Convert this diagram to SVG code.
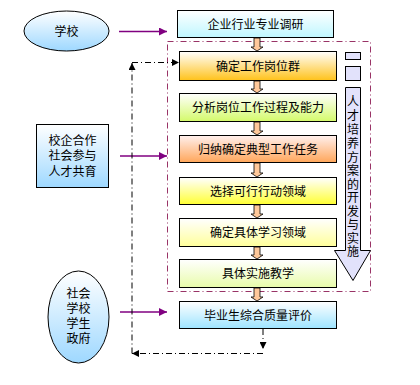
<svg xmlns="http://www.w3.org/2000/svg" width="420" height="385" viewBox="0 0 420 385">
<defs>
<linearGradient id="gCyan" x1="0" y1="0" x2="0" y2="1"><stop offset="0" stop-color="#ffffff"/><stop offset="1" stop-color="#bff7ff"/></linearGradient>
<linearGradient id="gOrange" x1="0" y1="0" x2="0" y2="1"><stop offset="0" stop-color="#ffffff"/><stop offset="1" stop-color="#ffc21a"/></linearGradient>
<linearGradient id="gGreen" x1="0" y1="0" x2="0" y2="1"><stop offset="0" stop-color="#ffffff"/><stop offset="1" stop-color="#d4fa6a"/></linearGradient>
<linearGradient id="gPeach" x1="0" y1="0" x2="0" y2="1"><stop offset="0" stop-color="#fff0ee"/><stop offset="1" stop-color="#ffa65a"/></linearGradient>
<linearGradient id="gYellow" x1="0" y1="0" x2="0" y2="1"><stop offset="0" stop-color="#ffffff"/><stop offset="1" stop-color="#ffff33"/></linearGradient>
<linearGradient id="gLYellow" x1="0" y1="0" x2="0" y2="1"><stop offset="0" stop-color="#ffffff"/><stop offset="1" stop-color="#ffff9a"/></linearGradient>
<linearGradient id="gLGreen" x1="0" y1="0" x2="0" y2="1"><stop offset="0" stop-color="#ffffff"/><stop offset="1" stop-color="#e8fcaa"/></linearGradient>
<linearGradient id="gBlue" x1="0" y1="0" x2="0" y2="1"><stop offset="0" stop-color="#ffffff"/><stop offset="1" stop-color="#9ed8ff"/></linearGradient>
<linearGradient id="gSky" x1="0" y1="0" x2="0" y2="1"><stop offset="0" stop-color="#ffffff"/><stop offset="1" stop-color="#9ee4ff"/></linearGradient>
<marker id="mPurple" viewBox="0 0 10 10" refX="10" refY="5" markerWidth="8" markerHeight="8" markerUnits="userSpaceOnUse" orient="auto"><path d="M0,0 L10,5 L0,10 Z" fill="#800080"/></marker>
<marker id="mBlack" viewBox="0 0 10 10" refX="10" refY="5" markerWidth="7" markerHeight="7" markerUnits="userSpaceOnUse" orient="auto"><path d="M0,0 L10,5 L0,10 Z" fill="#000"/></marker>
</defs>
<style>
.box{stroke:#000;stroke-width:1}
.t{font-family:"Liberation Sans","Noto Sans CJK SC",sans-serif;font-size:12px;fill:#000;text-anchor:middle}
.purple{stroke:#800080;stroke-width:1.5;fill:none;marker-end:url(#mPurple)}
.dd{stroke:#000;stroke-width:1;fill:none;stroke-dasharray:6 3 1 3}
.frame{stroke:#993366;stroke-width:1;fill:none;stroke-dasharray:6 3 1 3}
.down{fill:#ffc89a;stroke:#000;stroke-width:0.8}
.lav{fill:#e2e2fb;stroke:#000;stroke-width:1}
</style>

<rect class="frame" x="167.5" y="41.5" width="203" height="250"/>

<g id="school">
<ellipse cx="66.5" cy="31" rx="42.5" ry="20" fill="url(#gBlue)" class="box"/>
<text class="t" x="66.5" y="35.5">学校</text>
</g>
<g id="coop">
<rect x="36.5" y="124.5" width="72" height="63" fill="url(#gBlue)" class="box"/>
<text class="t" x="72.5" y="144.5">校企合作</text>
<text class="t" x="72.5" y="160">社会参与</text>
<text class="t" x="72.5" y="175.5">人才共育</text>
</g>
<g id="society">
<ellipse cx="78.5" cy="317" rx="30.5" ry="46" fill="url(#gBlue)" class="box"/>
<text class="t" x="78.5" y="298">社会</text>
<text class="t" x="78.5" y="313">学校</text>
<text class="t" x="78.5" y="328">学生</text>
<text class="t" x="78.5" y="343">政府</text>
</g>

<g id="n1"><rect x="177.5" y="10.5" width="156" height="27" fill="url(#gCyan)" class="box"/><text class="t" x="255.5" y="28.5">企业行业专业调研</text></g>
<g id="n2"><rect x="179.5" y="51.5" width="157" height="29" fill="url(#gOrange)" class="box"/><text class="t" x="258" y="70.5">确定工作岗位群</text></g>
<g id="n3"><rect x="179.5" y="93.5" width="157" height="28" fill="url(#gGreen)" class="box"/><text class="t" x="258" y="112">分析岗位工作过程及能力</text></g>
<g id="n4"><rect x="179.5" y="135.5" width="157" height="27" fill="url(#gPeach)" class="box"/><text class="t" x="258" y="153.5">归纳确定典型工作任务</text></g>
<g id="n5"><rect x="179.5" y="177.5" width="157" height="27" fill="url(#gYellow)" class="box"/><text class="t" x="258" y="195.5">选择可行行动领域</text></g>
<g id="n6"><rect x="179.5" y="218.5" width="157" height="28" fill="url(#gLYellow)" class="box"/><text class="t" x="258" y="237">确定具体学习领域</text></g>
<g id="n7"><rect x="179.5" y="259.5" width="157" height="28" fill="url(#gLGreen)" class="box"/><text class="t" x="258" y="278">具体实施教学</text></g>
<g id="n8"><rect x="179.5" y="301.5" width="157" height="27" fill="url(#gSky)" class="box"/><text class="t" x="258" y="319.5">毕业生综合质量评价</text></g>

<g id="plan">
<rect class="lav" x="345.5" y="52.5" width="15" height="7"/>
<rect class="lav" x="345.5" y="66.5" width="15" height="14"/>
<path class="lav" d="M345.5,87.5 H360.5 V250.5 H370.5 L353,280.5 L334.5,250.5 H345.5 Z"/>
<g class="t">
<text x="353" y="105.5">人</text>
<text x="353" y="119.5">才</text>
<text x="353" y="133.5">培</text>
<text x="353" y="147.5">养</text>
<text x="353" y="161.5">方</text>
<text x="353" y="175">案</text>
<text x="353" y="188.5">的</text>
<text x="353" y="202">开</text>
<text x="353" y="215.5">发</text>
<text x="353" y="229">与</text>
<text x="353" y="242.5">实</text>
<text x="353" y="256">施</text>
</g>
</g>

<g id="connectors">
<path class="purple" d="M119,31.5 H167"/>
<path class="purple" d="M120,156 H167"/>
<path class="purple" d="M120,312 H167"/>
<g class="down">
<path d="M254,38 H260 V47 H263 L257,51 L251,47 H254 Z"/>
<path d="M254,81 H260 V89 H263 L257,93 L251,89 H254 Z"/>
<path d="M254,122 H260 V131 H263 L257,135 L251,131 H254 Z"/>
<path d="M254,163 H260 V173 H263 L257,177 L251,173 H254 Z"/>
<path d="M254,205 H260 V214 H263 L257,218 L251,214 H254 Z"/>
<path d="M254,247 H260 V255 H263 L257,259 L251,255 H254 Z"/>
<path d="M254,288 H260 V297 H263 L257,301 L251,297 H254 Z"/>
</g>
<path class="dd" d="M263,329 V349" marker-end="url(#mBlack)"/>
<path class="dd" d="M263,353.5 H132" marker-end="url(#mBlack)"/>
<path class="dd" d="M132,353.5 V63" marker-end="url(#mBlack)"/>
<path class="dd" d="M132,62.5 H179" marker-end="url(#mBlack)"/>
</g>
</svg>
